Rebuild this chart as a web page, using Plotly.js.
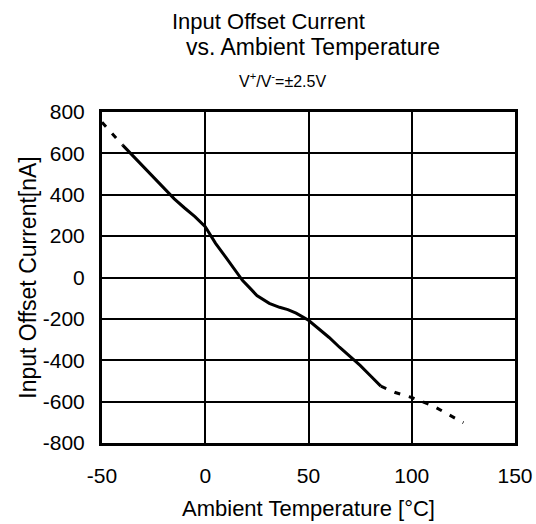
<!DOCTYPE html>
<html>
<head>
<meta charset="utf-8">
<script src="https://cdn.plot.ly/plotly-3.0.1.min.js"></script>
<style>html,body{margin:0;padding:0;background:#fff;}#chart{width:536px;height:524px;}</style>
</head>
<body>
<div id="chart"></div>
<script>
// Measured curve (solid)
const tempSolid = [-40, -35, -30, -25, -20, -15, -10, -5, 0, 5, 10, 15, 18, 22, 25, 31, 36, 40, 44, 50, 55, 60, 65, 70, 75, 80, 85];
const iosSolid  = [640, 588, 535, 482, 430, 380, 336, 294, 246, 165, 97, 29, -14, -55, -87, -125, -144, -155, -172, -207, -248, -290, -337, -381, -425, -475, -525];
// Extrapolated (dashed) segments
const tempDashLow = [-50, -40];
const iosDashLow  = [750, 640];
const tempDashHigh = [85, 92, 100, 110, 117, 125];
const iosDashHigh  = [-525, -556, -580, -619, -658, -702];
// Axis ticks
const xTicks = [-50, 0, 50, 100, 150];
const yTicks = [-800, -600, -400, -200, 0, 200, 400, 600, 800];

const FONT = "Liberation Sans, Arial, sans-serif";

const traces = [
  {x: tempSolid, y: iosSolid, mode: 'lines', line: {color: '#000', width: 3}, hoverinfo: 'skip'},
  {x: tempDashLow, y: iosDashLow, mode: 'lines', line: {color: '#000', width: 3, dash: '6px,9px'}, hoverinfo: 'skip'},
  {x: tempDashHigh, y: iosDashHigh, mode: 'lines', line: {color: '#000', width: 3, dash: '6px,9px'}, hoverinfo: 'skip'}
];

const layout = {
  width: 536, height: 524,
  margin: {l: 102, r: 21, t: 112, b: 81},
  paper_bgcolor: '#fff', plot_bgcolor: '#fff',
  showlegend: false,
  font: {family: FONT, size: 21, color: '#000'},
  xaxis: {
    range: [-50, 150], tickvals: xTicks, ticktext: xTicks.map(String),
    showgrid: true, gridcolor: '#000', gridwidth: 2,
    zeroline: false, showline: true, linecolor: '#000', linewidth: 3, mirror: true,
    ticks: '', ticklabelstandoff: 12,
    tickfont: {family: FONT, size: 21, color: '#000'},
    title: {text: 'Ambient Temperature [°C]', font: {family: FONT, size: 22, color: '#000'}, standoff: 15}
  },
  yaxis: {
    range: [-800, 800], tickvals: yTicks, ticktext: yTicks.map(String),
    showgrid: true, gridcolor: '#000', gridwidth: 2,
    zeroline: false, showline: true, linecolor: '#000', linewidth: 3, mirror: true,
    ticks: '', ticklabelstandoff: 10,
    tickfont: {family: FONT, size: 21, color: '#000'},
    title: {text: 'Input Offset Current[nA]', font: {family: FONT, size: 23, color: '#000'}, standoff: 0}
  },
  annotations: [
    {text: 'Input Offset Current', xref: 'paper', yref: 'paper', x: 0.402, y: 1.272, showarrow: false,
     xanchor: 'center', yanchor: 'middle', font: {family: FONT, size: 22, color: '#000'}},
    {text: 'vs. Ambient Temperature', xref: 'paper', yref: 'paper', x: 0.511, y: 1.196, showarrow: false,
     xanchor: 'center', yanchor: 'middle', font: {family: FONT, size: 23, color: '#000'}},
    {text: 'V<sup>+</sup>/V<sup>-</sup>=±2.5V', xref: 'paper', yref: 'paper', x: 0.438, y: 1.098, showarrow: false,
     xanchor: 'center', yanchor: 'middle', font: {family: FONT, size: 16, color: '#000'}}
  ]
};

Plotly.newPlot('chart', traces, layout, {staticPlot: true, displayModeBar: false});
</script>
</body>
</html>
